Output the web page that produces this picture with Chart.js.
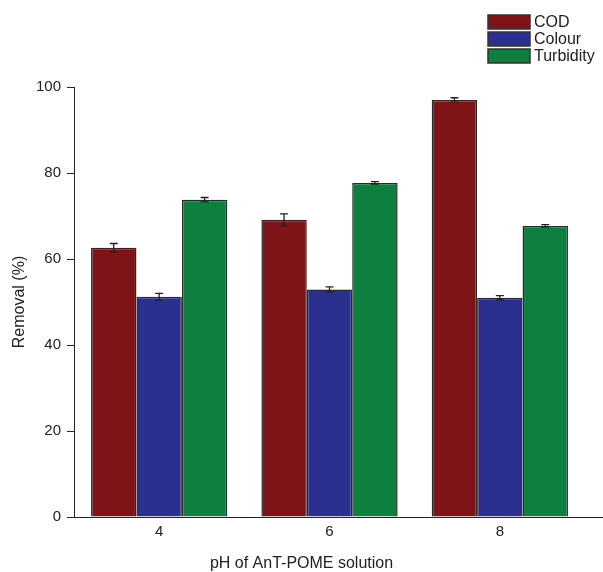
<!DOCTYPE html>
<html>
<head>
<meta charset="utf-8">
<title>Removal vs pH</title>
<script src="https://cdn.jsdelivr.net/npm/chart.js@4/dist/chart.umd.min.js"></script>
<style>
  html, body { margin: 0; padding: 0; background: #ffffff; }
  #wrap { width: 603px; height: 572px; }
</style>
</head>
<body>
<div id="wrap"><canvas id="chart" width="603" height="572"></canvas></div>
<script>
// pH values of the AnT-POME solution
const categories = ['4', '6', '8'];

// Removal (%) with standard deviations
const codRemoval = [62.6, 69.1, 97.0];
const codError = [1.0, 1.4, 0.5];
const colourRemoval = [51.2, 52.9, 51.0];
const colourError = [0.8, 0.6, 0.5];
const turbidityRemoval = [73.8, 77.7, 67.7];
const turbidityError = [0.5, 0.3, 0.3];

const yTicks = [0, 20, 40, 60, 80, 100];

const seriesLabels = ['COD', 'Colour', 'Turbidity'];
const seriesColors = ['#7e1417', '#2b308e', '#0e7f3f'];

const FONT = 'Liberation Sans, Arial, Helvetica, sans-serif';
const INK = '#222222';

const errorSets = [codError, colourError, turbidityError];

// Error bars drawn from each bar element and the value scale
const errorBars = {
  id: 'errorBars',
  afterDatasetsDraw(chart) {
    const ctx = chart.ctx;
    const y = chart.scales.y;
    ctx.save();
    ctx.strokeStyle = INK;
    ctx.lineWidth = 1.3;
    chart.data.datasets.forEach((ds, i) => {
      const meta = chart.getDatasetMeta(i);
      meta.data.forEach((bar, j) => {
        const v = ds.data[j];
        const e = errorSets[i][j];
        const yt = y.getPixelForValue(v + e);
        const yb = y.getPixelForValue(v - e);
        const x = bar.x;
        const cap = 4;
        ctx.beginPath();
        ctx.moveTo(x, yt); ctx.lineTo(x, yb);
        ctx.moveTo(x - cap, yt); ctx.lineTo(x + cap, yt);
        ctx.moveTo(x - cap, yb); ctx.lineTo(x + cap, yb);
        ctx.stroke();
      });
    });
    ctx.restore();
  }
};

// Baseline running to the right edge, plus the stacked legend at top right
const extras = {
  id: 'extras',
  afterDraw(chart) {
    const ctx = chart.ctx;
    const area = chart.chartArea;
    const y0 = chart.scales.y.getPixelForValue(0);
    ctx.save();
    ctx.strokeStyle = INK;
    ctx.lineWidth = 1;
    ctx.beginPath();
    ctx.moveTo(area.left, Math.round(y0) + 0.5);
    ctx.lineTo(chart.width, Math.round(y0) + 0.5);
    ctx.stroke();

    const bx = 488, bw = 42, bh = 14, top = 15, pitch = 17;
    ctx.font = '16px ' + FONT;
    ctx.textBaseline = 'middle';
    ctx.textAlign = 'left';
    chart.data.datasets.forEach((ds, i) => {
      const by = top + i * pitch;
      ctx.fillStyle = ds.backgroundColor;
      ctx.fillRect(bx, by, bw, bh);
      ctx.strokeStyle = '#333333';
      ctx.lineWidth = 1.5;
      ctx.strokeRect(bx, by, bw, bh);
      ctx.fillStyle = INK;
      ctx.fillText(ds.label, bx + bw + 4, by + bh / 2 + 0.5);
    });
    ctx.restore();
  }
};

const datasets = [codRemoval, colourRemoval, turbidityRemoval].map((vals, i) => ({
  label: seriesLabels[i],
  data: vals,
  backgroundColor: seriesColors[i],
  borderColor: '#2a2a2a',
  borderWidth: 1.5,
  barPercentage: 1.0,
  categoryPercentage: 0.8
}));

new Chart(document.getElementById('chart'), {
  type: 'bar',
  data: { labels: categories, datasets },
  plugins: [errorBars, extras],
  options: {
    responsive: false,
    animation: false,
    devicePixelRatio: 1,
    layout: { padding: { top: 87, right: 0, bottom: 0, left: 0 } },
    plugins: {
      legend: { display: false },
      tooltip: { enabled: false },
      title: {
        display: true,
        position: 'bottom',
        text: 'pH of AnT-POME solution',
        color: INK,
        font: { family: FONT, size: 16, weight: 'normal', lineHeight: 1.0 },
        padding: { top: 0, bottom: 0 }
      }
    },
    scales: {
      x: {
        grid: { display: false, drawTicks: false },
        border: { display: false },
        ticks: { color: INK, padding: 6, font: { family: FONT, size: 15 } },
        afterFit: s => { s.height = 39; }
      },
      y: {
        min: 0,
        max: 100,
        afterBuildTicks: s => { s.ticks = yTicks.map(v => ({ value: v })); },
        grid: { drawOnChartArea: false, drawTicks: true, tickLength: 7, color: INK },
        border: { display: true, color: INK, width: 1 },
        ticks: { color: INK, padding: 6, font: { family: FONT, size: 15 } },
        title: {
          display: true,
          text: 'Removal (%)',
          color: INK,
          font: { family: FONT, size: 16 },
          padding: { top: 10, bottom: 0 }
        },
        afterFit: s => { s.width = 74; }
      },
      gap: {
        type: 'linear',
        position: 'right',
        display: true,
        grid: { display: false },
        border: { display: false },
        ticks: { display: false },
        afterFit: s => { s.width = 18; }
      }
    }
  }
});
</script>
</body>
</html>
